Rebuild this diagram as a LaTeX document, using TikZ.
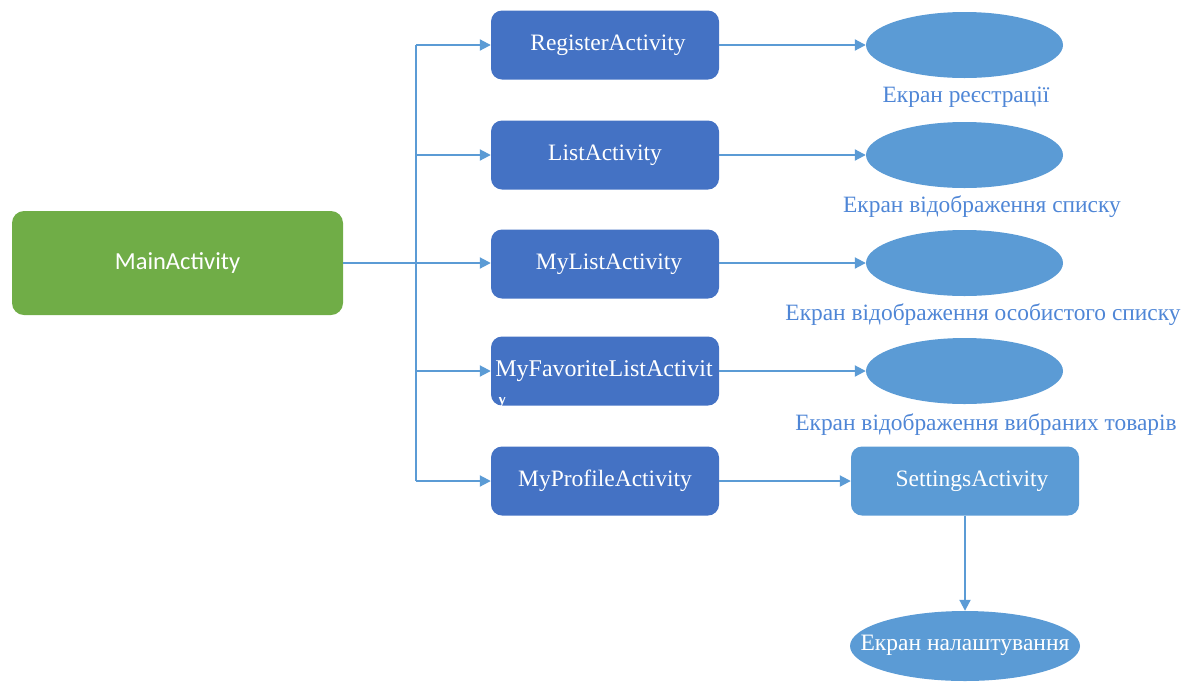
\documentclass[tikz,border=0pt]{standalone}
\usepackage{fontspec}
\setmainfont{Liberation Serif}
\newfontfamily\calib{Carlito}
\usetikzlibrary{arrows.meta,shapes.geometric}
\definecolor{actgreen}{HTML}{70AD47}
\definecolor{actblue}{HTML}{4472C4}
\definecolor{lightblue}{HTML}{5B9BD5}
\definecolor{capblue}{HTML}{4F86D6}
\tikzset{
  mainbox/.style={draw=none, fill=actgreen, rounded corners=12pt, minimum width=331pt, minimum height=104pt, text=white, font=\calib\fontsize{24.5}{27}\selectfont},
  actbox/.style={draw=none, fill=actblue, rounded corners=11pt, minimum width=228pt, minimum height=69pt, text=white, font=\fontsize{23.5}{26}\selectfont},
  setbox/.style={draw=none, fill=lightblue, rounded corners=11pt, minimum width=228pt, minimum height=69pt, text=white, font=\fontsize{23.5}{26}\selectfont},
  screen/.style={ellipse, draw=none, fill=lightblue, minimum width=197pt, minimum height=66pt, inner sep=0pt},
  caption/.style={text=capblue, font=\fontsize{23.4}{26}\selectfont, inner sep=0pt},
  link/.style={draw=lightblue, line width=2pt, -{Triangle[length=11pt,width=11pt]}},
  trunk/.style={draw=lightblue, line width=2pt}
}
\begin{document}
\begin{tikzpicture}[x=1pt,y=-1pt]
\useasboundingbox (0,0) rectangle (1191,681);

% main activity
\node[mainbox] (main) at (177.5,263) {MainActivity};

% activities launched from the main screen
\node[actbox] (reg) at (605,45) {\hspace{6pt}RegisterActivity};
\node[actbox] (list) at (605,155) {ListActivity};
\node[actbox] (mylist) at (605,264) {\hspace{8pt}MyListActivity};
\node[actbox] (fav) at (605,371) {};
\node[actbox] (prof) at (605,481) {MyProfileActivity};
\node[text=white, font=\fontsize{24}{26}\selectfont, inner sep=0pt] (favtxt) at (604,371) {MyFavoriteListActivit};
\begin{scope}
  \clip (491,397) rectangle (719,406);
  \node[text=white, font=\fontsize{24}{26}\selectfont, inner sep=0pt, anchor=north west] (favwrap) at (496,393) {y};
\end{scope}

% branching connector
\coordinate (tb) at (416,45);
\coordinate (tm) at (416,263);
\coordinate (te) at (416,481);
\path[trunk] (tb) -- (te);
\path[trunk] (main.east) -- (tm);
\path[link] (tb) -- (reg.west);
\path[link] (416,155) -- (list.west);
\path[link] (tm) -- (mylist.west |- tm);
\path[link] (416,371) -- (fav.west);
\path[link] (te) -- (prof.west);

% screens
\node[screen] (s1) at (964.5,45) {};
\node[screen] (s2) at (964.5,155) {};
\node[screen] (s3) at (964.5,263) {};
\node[screen] (s4) at (964.5,371) {};
\node[caption] (c1) at (966,97) {Екран реєстрації};
\node[caption] (c2) at (982,207) {Екран відображення списку};
\node[caption] (c3) at (983,315) {Екран відображення особистого списку};
\node[caption] (c4) at (986,425) {Екран відображення вибраних товарів};

\path[link] (reg.east) -- (s1.west);
\path[link] (list.east) -- (s2.west);
\path[link] (mylist.east |- s3) -- (s3.west);
\path[link] (fav.east) -- (s4.west);

% settings branch
\node[setbox] (set) at (965,481) {\hspace{14pt}SettingsActivity};
\node[ellipse, draw=none, fill=lightblue, minimum width=230pt, minimum height=70pt, inner sep=0pt] (setscr) at (965,646) {};
\node[text=white, font=\fontsize{23.5}{26}\selectfont, inner sep=0pt] (setcap) at (965,645) {Екран налаштування};
\path[link] (prof.east) -- (set.west);
\path[link] (set.south) -- (setscr.north);
\end{tikzpicture}
\end{document}
